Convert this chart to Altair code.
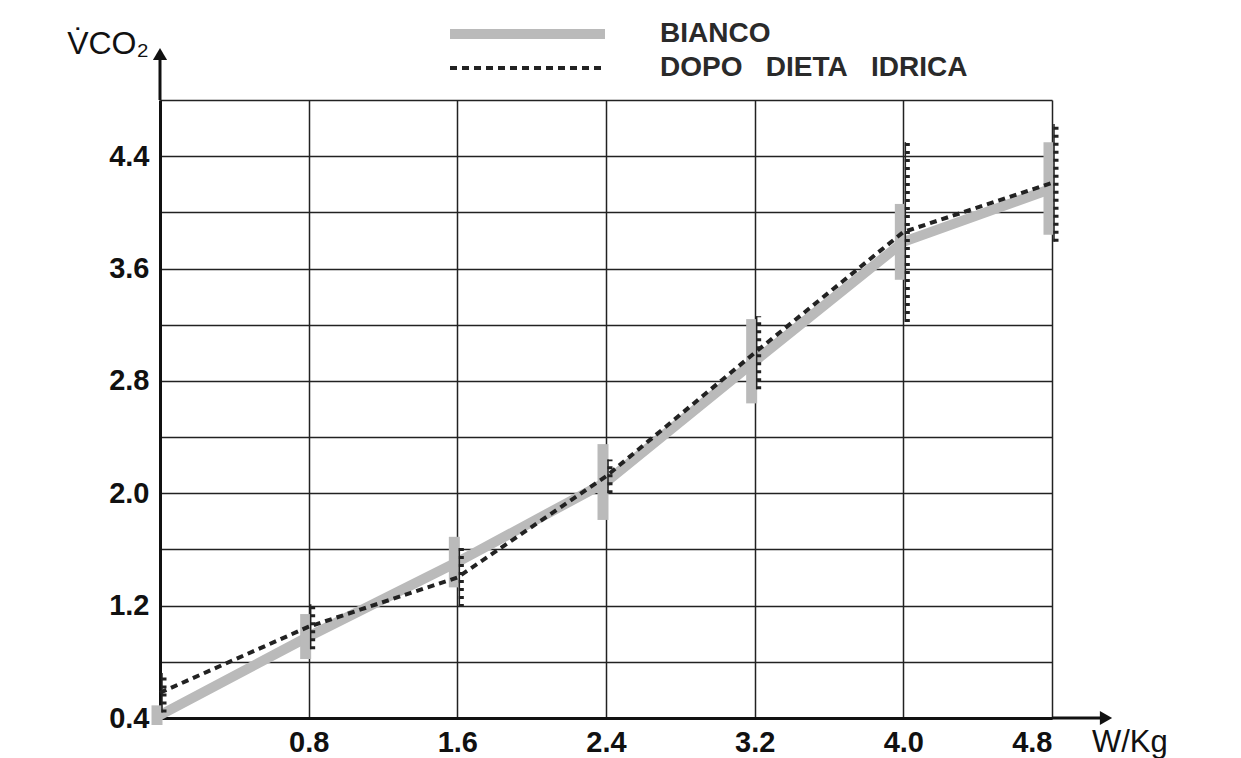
import altair as alt
import pandas as pd

# ---- data ----
loads = [0.0, 0.8, 1.6, 2.4, 3.2, 4.0, 4.8]          # W/Kg
bianco_mean = [0.42, 0.98, 1.51, 2.08, 2.94, 3.79, 4.17]
bianco_sd = [0.07, 0.16, 0.18, 0.27, 0.30, 0.27, 0.33]
dopo_mean = [0.58, 1.05, 1.40, 2.12, 3.00, 3.86, 4.21]
dopo_sd = [0.14, 0.16, 0.21, 0.12, 0.26, 0.64, 0.42]

y_grid = [0.4, 0.8, 1.2, 1.6, 2.0, 2.4, 2.8, 3.2, 3.6, 4.0, 4.4, 4.8]
y_labels = ["0.4", "1.2", "2.0", "2.8", "3.6", "4.4"]
x_grid = [0.0, 0.8, 1.6, 2.4, 3.2, 4.0, 4.8]

legend_names = ["BIANCO", "DOPO\u00a0\u00a0\u00a0DIETA\u00a0\u00a0\u00a0IDRICA"]
y_title = "V\u0307CO\u2082"
x_unit = "W/Kg"

GRAY = "#bababa"
FONT = "Liberation Sans"

rows = []
for i, x in enumerate(loads):
    rows.append(dict(x=x, series="BIANCO", mean=bianco_mean[i],
                     lo=bianco_mean[i] - bianco_sd[i], hi=bianco_mean[i] + bianco_sd[i]))
    rows.append(dict(x=x, series="DOPO", mean=dopo_mean[i],
                     lo=dopo_mean[i] - dopo_sd[i], hi=dopo_mean[i] + dopo_sd[i]))
df = pd.DataFrame(rows)
bianco = df[df.series == "BIANCO"]
dopo = df[df.series == "DOPO"]

label_test = "indexof(" + str(y_labels) + ", datum.label) >= 0 ? datum.label : ''"

xscale = alt.Scale(domain=[0, 4.8], nice=False, zero=False)
yscale = alt.Scale(domain=[0.4, 4.8], nice=False, zero=False)

common = dict(format=".1f", title=None, grid=True, ticks=False, domainWidth=3,
              domainColor="#111", gridColor="#222", gridWidth=1.5, gridOpacity=1,
              labelFont=FONT, labelFontSize=29, labelFontWeight="bold", labelColor="#111")
x_axis = alt.Axis(values=x_grid, labelExpr="datum.value == 0 ? '' : datum.label",
                  labelPadding=10, **common)
y_axis = alt.Axis(values=y_grid, labelExpr=label_test, labelPadding=11, **common)

X = alt.X("x:Q", scale=xscale, axis=x_axis)


def Yf(field):
    return alt.Y(field + ":Q", scale=yscale, axis=y_axis)


bianco_line = alt.Chart(bianco).mark_line(color=GRAY, strokeWidth=10, clip=False).encode(x=X, y=Yf("mean"))
bianco_bar = alt.Chart(bianco).mark_rule(color=GRAY, strokeWidth=11, xOffset=-3, clip=False).encode(
    x=X, y=Yf("lo"), y2="hi:Q")
dopo_line = alt.Chart(dopo).mark_line(color="#222222", strokeWidth=4, strokeDash=[7, 5], clip=False).encode(
    x=X, y=Yf("mean"))
dopo_bar = alt.Chart(dopo).mark_rule(color="#222222", strokeWidth=1.5, xOffset=2, clip=False).encode(
    x=X, y=Yf("lo"), y2="hi:Q")
dopo_ticks = alt.Chart(dopo).mark_rule(color="#222222", strokeWidth=5, strokeDash=[3, 5], xOffset=4, clip=False).encode(
    x=X, y=Yf("lo"), y2="hi:Q")

one = pd.DataFrame({"a": [0]})
# axis arrows
yarrow = alt.Chart(one).mark_rule(color="#111", strokeWidth=3).encode(
    x=alt.value(0), y=alt.value(0), y2=alt.value(-40))
yhead = alt.Chart(one).mark_point(shape="triangle-up", filled=True, color="#111",
                                  size=200, opacity=1).encode(x=alt.value(0), y=alt.value(-46))
xarrow = alt.Chart(one).mark_rule(color="#111", strokeWidth=3).encode(
    x=alt.value(892), x2=alt.value(940), y=alt.value(618))
xhead = alt.Chart(one).mark_point(shape="triangle-right", filled=True, color="#111",
                                  size=200, opacity=1).encode(x=alt.value(946), y=alt.value(618))

# titles
ytitle = alt.Chart(pd.DataFrame({"t": [y_title]})).mark_text(
    font=FONT, fontSize=32, align="center", baseline="alphabetic", color="#111").encode(
    x=alt.value(-52), y=alt.value(-46), text="t:N")
xunit = alt.Chart(pd.DataFrame({"t": [x_unit]})).mark_text(
    font=FONT, fontSize=31, align="left", baseline="middle", color="#111").encode(
    x=alt.value(932), y=alt.value(643), text="t:N")

# legend
leg_gray = alt.Chart(one).mark_rule(color=GRAY, strokeWidth=10).encode(
    x=alt.value(290), x2=alt.value(445), y=alt.value(-66))
leg_dash = alt.Chart(one).mark_rule(color="#222222", strokeWidth=4, strokeDash=[7, 5]).encode(
    x=alt.value(290), x2=alt.value(445), y=alt.value(-32))
leg_t1 = alt.Chart(pd.DataFrame({"t": [legend_names[0]]})).mark_text(
    font=FONT, fontSize=28, fontWeight="bold", align="left", baseline="middle", color="#2a2a2a").encode(
    x=alt.value(500), y=alt.value(-66), text="t:N")
leg_t2 = alt.Chart(pd.DataFrame({"t": [legend_names[1]]})).mark_text(
    font=FONT, fontSize=28, fontWeight="bold", align="left", baseline="middle", color="#2a2a2a").encode(
    x=alt.value(500), y=alt.value(-32), text="t:N")

chart = alt.layer(
    bianco_line, bianco_bar, dopo_line, dopo_bar, dopo_ticks,
    yarrow, yhead, xarrow, xhead, ytitle, xunit,
    leg_gray, leg_dash, leg_t1, leg_t2
).properties(
    width=892, height=618,
    padding={"left": 152, "top": 92, "right": 150, "bottom": 40},
    autosize=alt.AutoSizeParams(type="none"),
    background="white",
).configure_view(stroke=None)

chart.save("out.html", embed_options={"renderer": "svg", "actions": False})
